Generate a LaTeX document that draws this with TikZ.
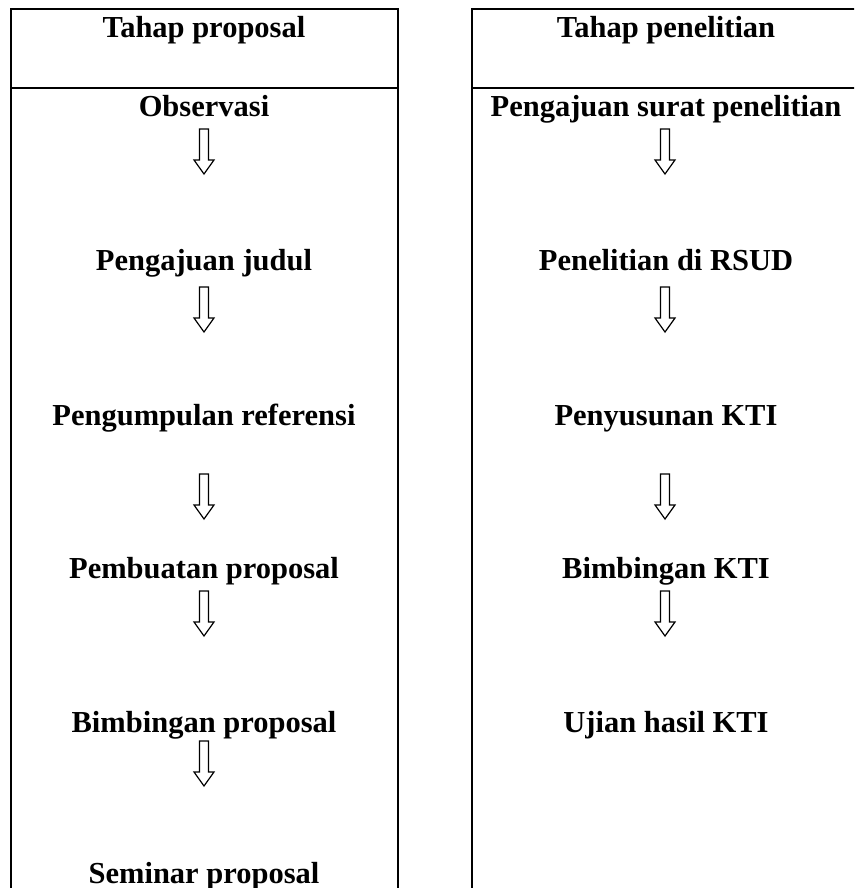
\documentclass[tikz,border=0pt]{standalone}
\usepackage{fontspec}
\setmainfont{Liberation Serif}
\usetikzlibrary{calc}
\tikzset{
  x=1pt, y=1pt,
  frame/.style={draw=black, line width=2pt},
  lbl/.style={anchor=base, inner sep=0pt, font=\fontsize{30.5}{32}\selectfont\bfseries},
  blockarr/.style={draw=black, line width=1.2pt, fill=white, line join=miter}
}
\newcommand{\flowarrow}[1]{%
  \draw[blockarr] (#1) ++(-4.5,0) -- ++(0,-31) -- ++(-5.5,0) -- ++(10,-14) -- ++(10,14) -- ++(-5.5,0) -- ++(0,31) -- cycle;}
\begin{document}
\begin{tikzpicture}
\useasboundingbox (0,0) rectangle (854,-888);
\fill[white] (0,0) rectangle (854,-888);
\clip (0,0) rectangle (854,-888);

% frames
\draw[frame] (11,-900) -- (11,-9) -- (398,-9) -- (398,-900);
\draw[frame] (11,-88) -- (398,-88);
\draw[frame] (472,-900) -- (472,-9) -- (870,-9);
\draw[frame] (472,-88) -- (870,-88);

% left column
\node[lbl] (hl) at (204,-38) {Tahap proposal};
\node[lbl] (l1) at (204,-117) {Observasi};
\node[lbl] (l2) at (204,-270) {Pengajuan judul};
\node[lbl] (l3) at (204,-425) {Pengumpulan referensi};
\node[lbl] (l4) at (204,-578) {Pembuatan proposal};
\node[lbl] (l5) at (204,-732) {Bimbingan proposal};
\node[lbl] (l6) at (204,-883) {Seminar proposal};

% right column
\node[lbl] (hr) at (666,-38) {Tahap penelitian};
\node[lbl] (r1) at (666,-117) {Pengajuan surat penelitian};
\node[lbl] (r2) at (666,-270) {Penelitian di RSUD};
\node[lbl] (r3) at (666,-425) {Penyusunan KTI};
\node[lbl] (r4) at (666,-578) {Bimbingan KTI};
\node[lbl] (r5) at (666,-732) {Ujian hasil KTI};

% arrow start points
\coordinate (la1) at (204,-129);
\coordinate (la2) at (204,-287);
\coordinate (la3) at (204,-474);
\coordinate (la4) at (204,-591);
\coordinate (la5) at (204,-741);
\coordinate (ra1) at (665,-129);
\coordinate (ra2) at (665,-287);
\coordinate (ra3) at (665,-474);
\coordinate (ra4) at (665,-591);

\flowarrow{la1}
\flowarrow{la2}
\flowarrow{la3}
\flowarrow{la4}
\flowarrow{la5}
\flowarrow{ra1}
\flowarrow{ra2}
\flowarrow{ra3}
\flowarrow{ra4}
\end{tikzpicture}
\end{document}
